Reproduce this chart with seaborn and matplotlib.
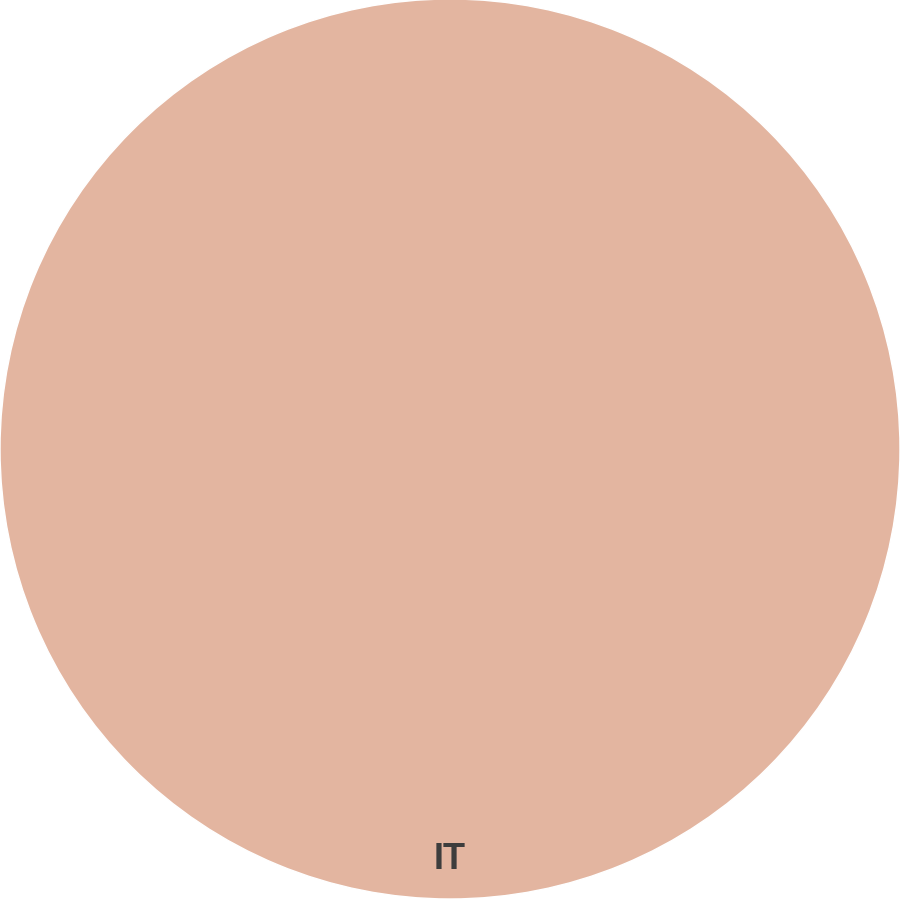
import matplotlib
matplotlib.use("Agg")
import matplotlib.pyplot as plt
import seaborn as sns

# 데이터
labels = ["IT"]
values = [100]
colors = ["#E3B5A0"]

sns.set_theme(style="white")
plt.rcParams["font.family"] = ["Liberation Sans", "DejaVu Sans"]

fig = plt.figure(figsize=(9, 9.03), dpi=100)
ax = fig.add_axes([0, 0, 1, 1])

wedges, texts = ax.pie(values, labels=labels, colors=colors, startangle=90,
                       labeldistance=0.91, radius=1.0,
                       textprops={"fontsize": 26, "fontweight": "bold", "color": "#3d3d3d"})
for t in texts:
    t.set_ha("center")
    t.set_va("center")

ax.set_xlim(-1.0, 1.0)
ax.set_ylim(-1.0067, 1.0)
ax.set_aspect("equal")
ax.axis("off")

fig.savefig("out.png", dpi=100, facecolor="white")
